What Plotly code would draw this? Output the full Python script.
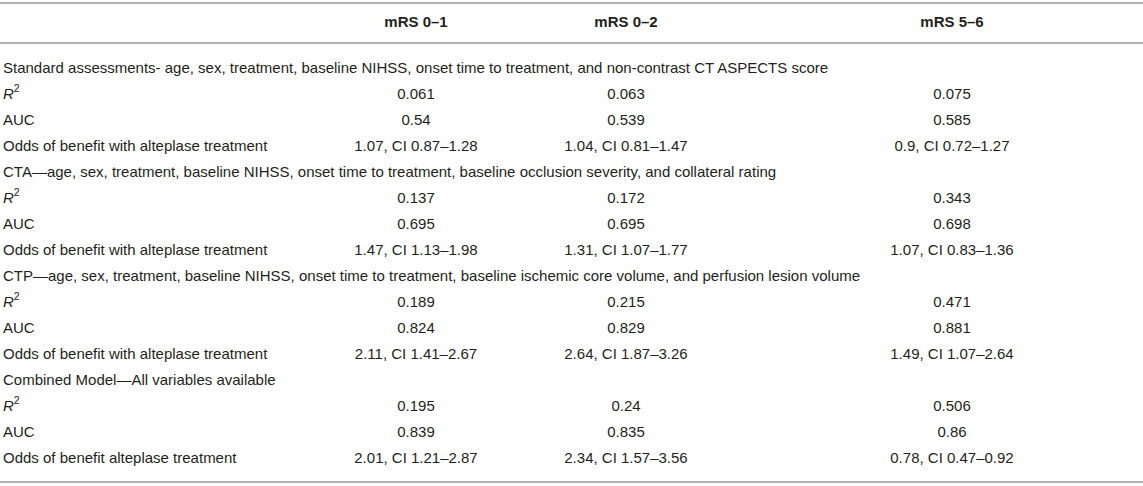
import plotly.graph_objects as go

# Table content
col_headers = ["mRS 0–1", "mRS 0–2", "mRS 5–6"]

row_labels = [
    "Standard assessments- age, sex, treatment, baseline NIHSS, onset time to treatment, and non-contrast CT ASPECTS score",
    "<i>R</i><sup>2</sup>",
    "AUC",
    "Odds of benefit with alteplase treatment",
    "CTA—age, sex, treatment, baseline NIHSS, onset time to treatment, baseline occlusion severity, and collateral rating",
    "<i>R</i><sup>2</sup>",
    "AUC",
    "Odds of benefit with alteplase treatment",
    "CTP—age, sex, treatment, baseline NIHSS, onset time to treatment, baseline ischemic core volume, and perfusion lesion volume",
    "<i>R</i><sup>2</sup>",
    "AUC",
    "Odds of benefit with alteplase treatment",
    "Combined Model—All variables available",
    "<i>R</i><sup>2</sup>",
    "AUC",
    "Odds of benefit alteplase treatment",
]

mrs01 = ["", "0.061", "0.54", "1.07, CI 0.87–1.28",
         "", "0.137", "0.695", "1.47, CI 1.13–1.98",
         "", "0.189", "0.824", "2.11, CI 1.41–2.67",
         "", "0.195", "0.839", "2.01, CI 1.21–2.87"]
mrs02 = ["", "0.063", "0.539", "1.04, CI 0.81–1.47",
         "", "0.172", "0.695", "1.31, CI 1.07–1.77",
         "", "0.215", "0.829", "2.64, CI 1.87–3.26",
         "", "0.24", "0.835", "2.34, CI 1.57–3.56"]
mrs56 = ["", "0.075", "0.585", "0.9, CI 0.72–1.27",
         "", "0.343", "0.698", "1.07, CI 0.83–1.36",
         "", "0.471", "0.881", "1.49, CI 1.07–2.64",
         "", "0.506", "0.86", "0.78, CI 0.47–0.92"]

# Layout (pixel units)
W, H = 1143, 486
col_x = [416, 626, 952]
label_x = 3
header_y = 23
row_y0 = 69
row_step = 26
font = dict(family="Liberation Sans, Arial, sans-serif", size=15, color="#231f20")
line_color = "#b3b3b3"

row_y = [row_y0 + i * row_step for i in range(len(row_labels))]

fig = go.Figure()

# header
fig.add_trace(go.Scatter(
    x=col_x, y=[header_y] * len(col_x),
    mode="text",
    text=[f"<b>{h}</b>" for h in col_headers],
    textposition="middle center",
    textfont=font,
    hoverinfo="skip"))

# row labels
fig.add_trace(go.Scatter(
    x=[label_x] * len(row_labels), y=row_y,
    mode="text",
    text=row_labels,
    textposition="middle right",
    textfont=font,
    hoverinfo="skip"))

# values (skip the empty group-header cells)
for cx, vals in zip(col_x, [mrs01, mrs02, mrs56]):
    ys = [y for y, v in zip(row_y, vals) if v]
    txt = [v for v in vals if v]
    fig.add_trace(go.Scatter(
        x=[cx] * len(txt), y=ys,
        mode="text",
        text=txt,
        textposition="middle center",
        textfont=font,
        hoverinfo="skip"))

# rules
for yy in [3, 43, 482]:
    fig.add_shape(type="line", x0=0, x1=W, y0=yy, y1=yy,
                  xref="x", yref="y", line=dict(color=line_color, width=2))

fig.update_layout(
    width=W, height=H,
    margin=dict(l=0, r=0, t=0, b=0),
    paper_bgcolor="white",
    plot_bgcolor="white",
    showlegend=False,
    xaxis=dict(range=[0, W], visible=False, fixedrange=True),
    yaxis=dict(range=[H, 0], visible=False, fixedrange=True),
)

fig.write_html("out.html", config={"displayModeBar": False},
               post_script="document.body.style.margin='0';")
